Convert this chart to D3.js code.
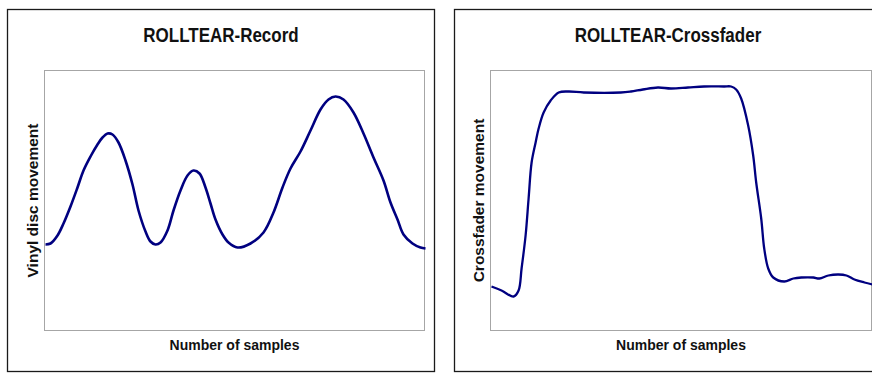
<!DOCTYPE html>
<html>
<head>
<meta charset="utf-8">
<script src="https://cdn.jsdelivr.net/npm/d3@7"></script>
<style>
  body { margin: 0; background: #fff; }
  text { font-family: "Liberation Sans", Arial, sans-serif; font-weight: bold; fill: #111; }
</style>
</head>
<body>
<svg id="chart" width="872" height="373"></svg>
<script>
// ROLLTEAR-Record : vinyl disc movement
const recordSamples = [1, 6, 13, 19, 26, 33, 39, 46, 53, 58, 63, 68, 74, 81, 88, 94, 101, 106, 111, 116,
  123, 129, 136, 143, 149, 155, 161, 166, 171, 178, 184, 193, 206, 219, 229, 238, 246, 256, 266, 276,
  284, 291, 299, 309, 319, 329, 339, 346, 353, 359, 368, 376, 381]
const recordValues = [86, 87, 95, 107, 124, 143, 160, 174, 186, 193, 197, 196, 188, 170, 146, 120, 99, 89, 86, 88,
  100, 120, 140, 155, 160, 157, 143, 127, 111, 96, 88, 83, 87, 98, 118, 143, 162, 179, 200, 221,
  231, 234, 231, 218, 197, 173, 150, 128, 111, 96, 87, 83, 82]

// ROLLTEAR-Crossfader : crossfader movement
const crossSamples = [1, 11, 23, 28, 31, 35, 38, 41, 45, 48, 53, 60, 68, 78, 93, 130, 140, 152, 167, 180,
  197, 213, 233, 240, 245, 250, 257, 262, 265, 270, 273, 277, 282, 293, 302, 310, 322, 328, 337, 347,
  355, 363, 373, 381]
const crossValues = [44, 40, 34, 40, 62, 95, 132, 168, 188, 202, 218, 230, 238, 239, 238, 238, 239, 241, 243, 242,
  243, 244, 244, 244, 241, 232, 205, 175, 148, 112, 82, 62, 53, 49, 52, 53, 53, 52, 55, 56,
  55, 51, 48, 46]

const titles = ["ROLLTEAR-Record", "ROLLTEAR-Crossfader"]
const yLabels = ["Vinyl disc movement", "Crossfader movement"]
const xLabel = "Number of samples"

const svg = d3.select('#chart')

/**
 * draw one panel: outer frame, plot frame, title, labels and the line
 */
function buildPanel(g, samples, values, config) {
  const x = d3.scaleLinear()
    .domain([0, 380])
    .range([config.plot.left, config.plot.right])
  const y = d3.scaleLinear()
    .domain([0, 260])
    .range([config.plot.bottom, config.plot.top])

  g.append('rect')
    .attr('x', config.outer.left)
    .attr('y', config.outer.top)
    .attr('width', config.outer.right - config.outer.left)
    .attr('height', config.outer.bottom - config.outer.top)
    .attr('fill', '#fff')
    .attr('stroke', '#1a1a1a')
    .attr('stroke-width', 1.3)

  g.append('rect')
    .attr('x', config.plot.left)
    .attr('y', config.plot.top)
    .attr('width', config.plot.right - config.plot.left)
    .attr('height', config.plot.bottom - config.plot.top)
    .attr('fill', 'none')
    .attr('stroke', '#a6a6a6')
    .attr('stroke-width', 1)

  g.append('text')
    .attr('text-anchor', 'middle')
    .attr('transform', `translate(${config.titleX}, 41.5) scale(1, 1.15)`)
    .style('font-size', '17px')
    .text(config.title)

  g.append('text')
    .attr('text-anchor', 'middle')
    .attr('transform', `translate(${(config.plot.left + config.plot.right) / 2}, 350) scale(1, 1.1)`)
    .style('font-size', '14px')
    .text(xLabel)

  g.append('text')
    .attr('text-anchor', 'middle')
    .attr('transform', `translate(${config.yLabelX}, ${(config.plot.top + config.plot.bottom) / 2}) rotate(-90)`)
    .style('font-size', '15.5px')
    .text(config.yLabel)

  const points = samples.map((s, i) => [s, values[i]])
  const line = d3.line()
    .x(d => x(d[0]))
    .y(d => y(d[1]))
    .curve(d3.curveCatmullRom.alpha(0.5))

  g.append('path')
    .datum(points)
    .attr('d', line)
    .attr('fill', 'none')
    .attr('stroke', '#000080')
    .attr('stroke-width', config.lineWidth)
    .attr('stroke-linejoin', 'round')
}

buildPanel(svg.append('g'), recordSamples, recordValues, {
  outer: {left: 7.5, right: 434.5, top: 9.5, bottom: 371.5},
  plot: {left: 44.5, right: 424.5, top: 70.5, bottom: 330.5},
  title: titles[0],
  titleX: 221,
  yLabel: yLabels[0],
  yLabelX: 38,
  lineWidth: 2.6
})

buildPanel(svg.append('g'), crossSamples, crossValues, {
  outer: {left: 454.5, right: 884, top: 9.5, bottom: 371.5},
  plot: {left: 490.5, right: 871.5, top: 70.5, bottom: 330.5},
  title: titles[1],
  titleX: 668,
  yLabel: yLabels[1],
  yLabelX: 484,
  lineWidth: 2.3
})
</script>
</body>
</html>
